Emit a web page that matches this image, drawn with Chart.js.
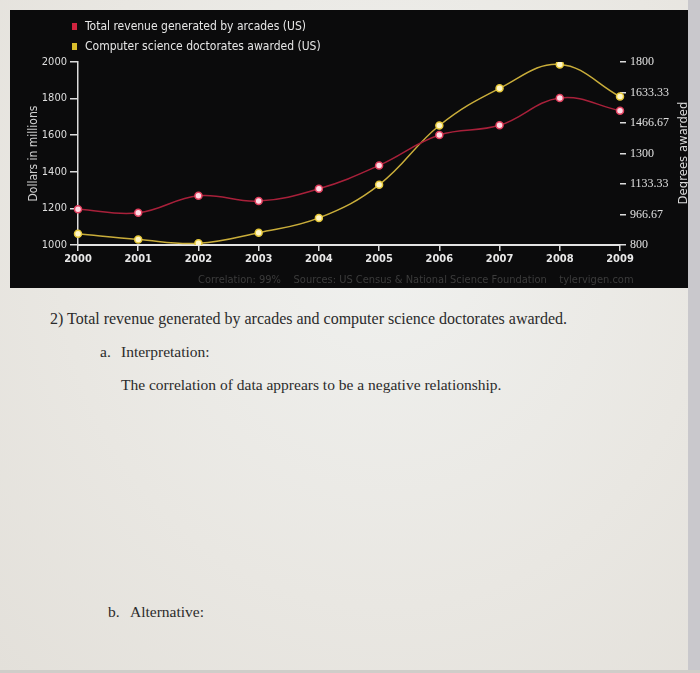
<!DOCTYPE html>
<html>
<head>
<meta charset="utf-8">
<script src="https://cdn.jsdelivr.net/npm/chart.js@4"></script>
<style>
    html, body { margin: 0; padding: 0; }
    body {
        width: 700px; height: 673px; position: relative; overflow: hidden;
        background: radial-gradient(ellipse at 55% 35%, #f0f1ef 0%, #e9e7e2 60%, #e3e0da 100%);
        font-family: 'Liberation Serif', 'Times New Roman', serif;
        color: #2b2b2b;
    }
    #bezel { position: absolute; left: 688px; top: 0; width: 12px; height: 673px; background: #c9c8cc; }
    #bottomEdge { position: absolute; left: 0; top: 670px; width: 700px; height: 3px; background: #cfcdc9; }
    #box { position: absolute; left: 10px; top: 10px; width: 678px; height: 278px; background: #0b0b0c; }
    #chartWrap { position: absolute; left: 0; top: 0; width: 678px; height: 278px; }
    .sans { font-family: 'DejaVu Sans Condensed', 'DejaVu Sans', sans-serif; }
    #legend { position: absolute; left: 62px; top: 6px; color: #e6e6e6; font-size: 12px; }
    #legend div { height: 20px; line-height: 20px; white-space: nowrap; }
    #legend span.sw { display: inline-block; width: 5px; height: 7px; margin-right: 8px; vertical-align: 0px; }
    #rightTitle { position: absolute; left: 672px; top: 143px; color: #d8d8d8; font-size: 13px;
        transform: translate(-50%, -50%) rotate(-90deg); white-space: nowrap; }
    #footer { position: absolute; left: 188px; top: 263px; color: #3c3c3c; font-size: 11px; white-space: pre; }
    .line { position: absolute; font-size: 15.5px; white-space: nowrap; }
</style>
</head>
<body>
<div id="box">
    <div id="chartWrap"><canvas id="chart"></canvas></div>
    <div id="legend" class="sans"></div>
    <div id="rightTitle" class="sans">Degrees awarded</div>
    <div id="footer" class="sans">Correlation: 99%    Sources: US Census &amp; National Science Foundation    tylervigen.com</div>
</div>
<div id="bezel"></div>
<div id="bottomEdge"></div>

<div class="line" style="left:50px; top:310px; font-size:16px;">2) Total revenue generated by arcades and computer science doctorates awarded.</div>
<div class="line" style="left:100px; top:343px;">a.</div>
<div class="line" style="left:121px; top:343px;">Interpretation:</div>
<div class="line" style="left:121px; top:376px;">The correlation of data apprears to be a negative relationship.</div>
<div class="line" style="left:108px; top:603px;">b.</div>
<div class="line" style="left:130px; top:603px;">Alternative:</div>

<script>
// data
var years = ['2000', '2001', '2002', '2003', '2004', '2005', '2006', '2007', '2008', '2009'];
var arcadeRevenue = [1196, 1176, 1269, 1240, 1307, 1435, 1601, 1654, 1803, 1734];
var csDoctorates = [861, 830, 809, 867, 948, 1129, 1453, 1656, 1787, 1611];
var leftTicks = [1000, 1200, 1400, 1600, 1800, 2000];
var rightTicks = [800, 966.67, 1133.33, 1300, 1466.67, 1633.33, 1800];
var seriesNames = ['Total revenue generated by arcades (US)', 'Computer science doctorates awarded (US)'];
var seriesColors = ['#d0233f', '#d8bd2c'];

// legend as html
var legendEl = document.getElementById('legend');
seriesNames.forEach(function (name, i) {
    var row = document.createElement('div');
    row.innerHTML = '<span class="sw" style="background:' + seriesColors[i] + '"></span>' + name;
    legendEl.appendChild(row);
});

var sansFont = "'DejaVu Sans Condensed', 'DejaVu Sans', sans-serif";

var ctx = document.getElementById('chart').getContext('2d');
new Chart(ctx, {
    type: 'line',
    data: {
        labels: years,
        datasets: [
            {
                label: seriesNames[0],
                data: arcadeRevenue,
                yAxisID: 'y',
                borderColor: '#a8203a',
                borderWidth: 1.5,
                backgroundColor: '#ffdbe5',
                pointBorderColor: '#e0405e',
                pointBorderWidth: 1.5,
                pointRadius: 3.5,
                tension: 0.4
            },
            {
                label: seriesNames[1],
                data: csDoctorates,
                yAxisID: 'y1',
                borderColor: '#c9ad3a',
                borderWidth: 1.5,
                backgroundColor: '#fff6c8',
                pointBorderColor: '#e6c83a',
                pointBorderWidth: 1.5,
                pointRadius: 3.5,
                tension: 0.4
            }
        ]
    },
    options: {
        responsive: true,
        maintainAspectRatio: false,
        animation: false,
        layout: { padding: { top: 52, left: 0, right: 0, bottom: 0 } },
        plugins: {
            legend: { display: false },
            tooltip: { enabled: false }
        },
        scales: {
            x: {
                offset: false,
                grid: { drawOnChartArea: false, tickLength: 6, color: '#e0e0e0', lineWidth: 1.5 },
                border: { color: '#e4e4e4', width: 2 },
                ticks: { color: '#e8e8e8', padding: 2, maxRotation: 0, font: { family: sansFont, size: 11, weight: 'bold' } },
                afterFit: function (s) { s.height = 43; }
            },
            y: {
                position: 'left',
                min: 1000,
                max: 2000,
                afterBuildTicks: function (s) { s.ticks = leftTicks.map(function (v) { return { value: v }; }); },
                grid: { drawOnChartArea: false, tickLength: 8, color: '#dcdcdc', lineWidth: 1.5 },
                border: { color: '#dcdcdc', width: 1.5 },
                ticks: {
                    color: '#dedede', padding: 3, font: { family: sansFont, size: 11 },
                    callback: function (v) { return String(v); }
                },
                title: { display: true, text: 'Dollars in millions', color: '#d0d0d0', padding: { top: 17, bottom: 0 },
                    font: { family: sansFont, size: 12 } },
                afterFit: function (s) { s.width = 68; }
            },
            y1: {
                position: 'right',
                min: 800,
                max: 1800,
                afterBuildTicks: function (s) { s.ticks = rightTicks.map(function (v) { return { value: v }; }); },
                grid: { drawOnChartArea: false, tickLength: 6, color: '#dcdcdc', lineWidth: 1.5 },
                border: { display: false },
                ticks: {
                    color: '#e0e0e0', padding: 4,
                    font: { family: "'Liberation Serif', serif", size: 12 },
                    callback: function (v) { return String(v); }
                },
                afterFit: function (s) { s.width = 68; }
            }
        }
    }
});
</script>
</body>
</html>
